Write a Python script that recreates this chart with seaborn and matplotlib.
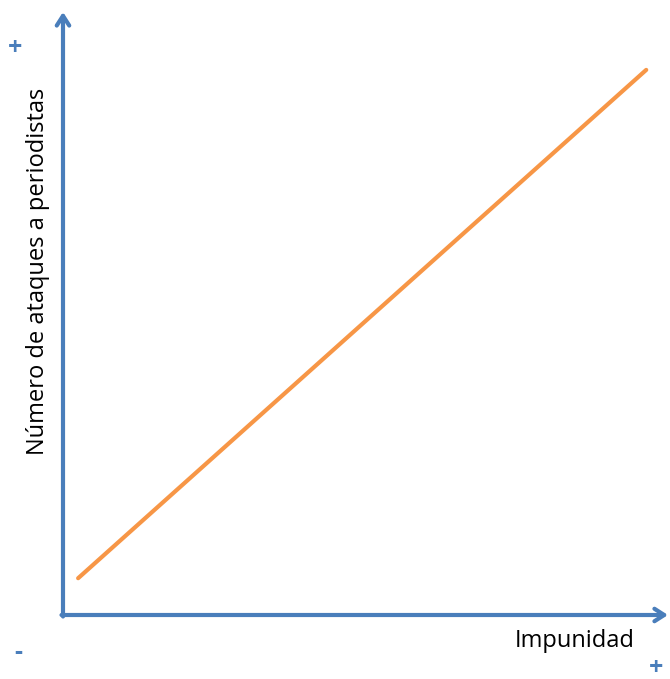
import matplotlib.pyplot as plt
import seaborn as sns
import pandas as pd

# Datos: relación entre impunidad y ataques (escala conceptual 0-1)
impunidad = [0.025, 0.964]
ataques = [0.061, 0.904]

azul = '#4A7EBB'
naranja = '#F79646'

df = pd.DataFrame({'Impunidad': impunidad, 'Ataques': ataques})

sns.set_style('white')
plt.rcParams['font.family'] = ['Open Sans', 'DejaVu Sans']

fig = plt.figure(figsize=(6.7, 6.79), dpi=100)
ax = fig.add_axes([63 / 670, 64 / 679, 605 / 670, 603 / 679])

sns.lineplot(x='Impunidad', y='Ataques', data=df, color=naranja, linewidth=3, ax=ax)

ax.set_xlim(0, 1)
ax.set_ylim(0, 1)
ax.set_xticks([])
ax.set_yticks([])
ax.set_xlabel('')
ax.set_ylabel('')
for s in ax.spines.values():
    s.set_visible(False)

# Ejes con flechas
flecha = dict(arrowstyle='->,head_length=0.7,head_width=0.45', color=azul, lw=3,
              shrinkA=0, shrinkB=0)
ax.annotate('', xy=(0, 1), xytext=(0, -0.0025), xycoords='axes fraction', arrowprops=flecha)
ax.annotate('', xy=(1, 0), xytext=(-0.0025, 0), xycoords='axes fraction', arrowprops=flecha)

# Etiquetas
fig.text(575 / 670, 1 - 641 / 679, 'Impunidad', ha='center', va='center', fontsize=17, color='black')
fig.text(38 / 670, 1 - 271 / 679, 'Número de ataques a periodistas', ha='center', va='center',
         rotation=90, fontsize=17, color='black')
fig.text(15 / 670, 1 - 49 / 679, '+', ha='center', va='center', fontsize=18, fontweight='bold', color=azul)
fig.text(18 / 670, 1 - 653 / 679, '-', ha='center', va='center', fontsize=18, fontweight='bold', color=azul)
fig.text(656 / 670, 1 - 668 / 679, '+', ha='center', va='center', fontsize=18, fontweight='bold', color=azul)

plt.savefig('out.png', dpi=100)
